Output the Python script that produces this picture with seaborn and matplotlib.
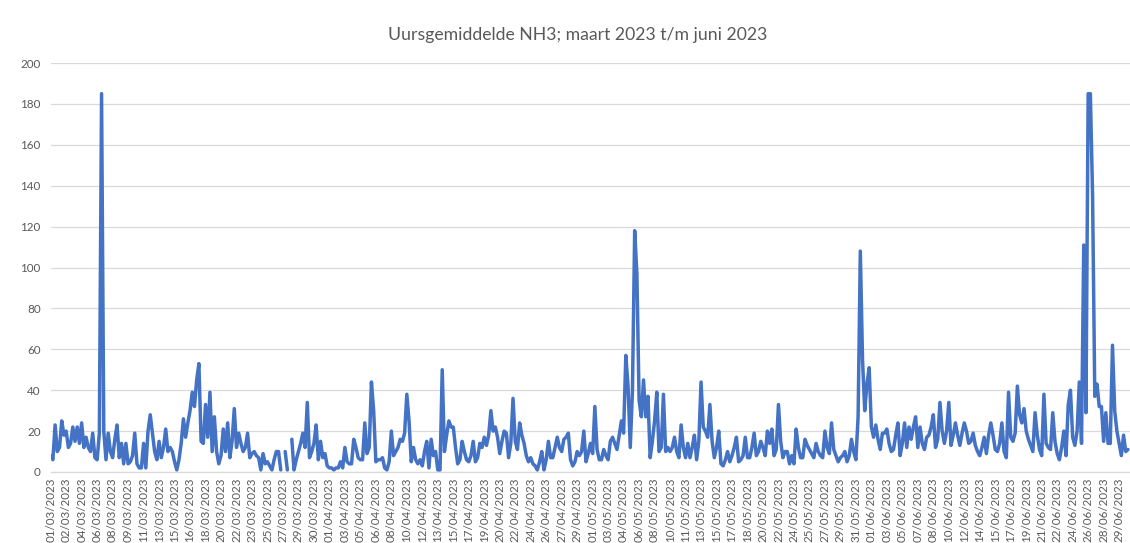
import numpy as np
import pandas as pd
import matplotlib
matplotlib.use("Agg")
import matplotlib.pyplot as plt
import seaborn as sns

# Uursgemiddelde NH3, four readings per day (00, 06, 12, 18 h)
START = "2023-03-01 00:00"
N_DAYS = 122

maart = [
    8, 6, 23, 10,    12, 25, 18, 20,   12, 14, 22, 15,   22, 14, 24, 12,
    17, 12, 10, 19,  7, 6, 19, 185,    20, 6, 19, 10,    7, 16, 23, 7,
    14, 4, 14, 4,    5, 8, 19, 4,      2, 2, 14, 2,      20, 28, 19, 10,
    6, 15, 7, 12,    21, 10, 12, 10,   5, 1, 6, 14,      26, 17, 24, 30,
    39, 32, 45, 53,  15, 14, 33, 17,   39, 10, 27, 10,   4, 8, 21, 10,
    24, 7, 15, 31,   12, 19, 14, 10,   12, 19, 7, 9,     10, 8, 7, 1,
    9, 4, 5, 3,      1, 6, 10, 10,     1, np.nan, 10, 1, np.nan, 16, 1, 6,
    10, 14, 19, 12,  34, 7, 10, 14,    23, 6, 15, 7,
]
april = [
    9, 3, 2, 2,      1, 2, 2, 5,       2, 12, 5, 4,      4, 16, 12, 7,
    6, 6, 24, 9,     12, 44, 30, 5,    6, 6, 7, 2,       1, 5, 20, 8,
    10, 12, 16, 15,  19, 38, 25, 5,    12, 6, 4, 6,      3, 10, 15, 2,
    16, 8, 10, 1,    1, 50, 10, 18,    25, 22, 22, 12,   4, 6, 15, 10,
    6, 5, 8, 15,     5, 7, 14, 12,     17, 13, 18, 30,   20, 22, 17, 9,
    15, 20, 19, 7,   14, 36, 15, 11,   24, 18, 14, 8,    5, 7, 4, 3,
    1, 5, 10, 1,     6, 15, 7, 7,      12, 17, 12, 10,   16, 17, 19, 6,
    3, 5, 10, 8,     10, 20, 5, 9,
]
mei = [
    14, 9, 32, 11,   6, 6, 11, 8,      6, 15, 17, 14,    11, 18, 25, 19,
    57, 42, 12, 40,  118, 97, 35, 27,  45, 27, 37, 7,    15, 25, 39, 10,
    12, 38, 10, 12,  10, 12, 17, 10,   7, 23, 12, 7,     14, 7, 12, 18,
    6, 15, 44, 22,   20, 17, 33, 15,   7, 12, 20, 4,     3, 6, 10, 5,
    8, 12, 17, 5,    6, 8, 17, 7,      7, 12, 19, 8,     10, 15, 12, 8,
    20, 14, 21, 8,   11, 33, 15, 7,    10, 10, 4, 8,     4, 21, 12, 7,
    7, 16, 13, 11,   9, 7, 14, 10,     8, 7, 20, 12,     9, 24, 11, 8,
    5, 7, 8, 10,     5, 8, 16, 10,     6, 27, 108, 55,
]
juni = [
    30, 43, 51, 22,  17, 23, 16, 11,   19, 19, 21, 14,   10, 11, 18, 24,
    8, 14, 24, 12,   22, 16, 22, 27,   12, 22, 14, 11,   17, 18, 22, 28,
    12, 16, 34, 20,  14, 20, 34, 13,   18, 24, 18, 13,   19, 24, 20, 14,
    15, 19, 13, 10,  8, 12, 17, 9,     18, 24, 18, 11,   10, 14, 24, 10,
    7, 39, 17, 15,   19, 42, 28, 24,   31, 20, 16, 13,   10, 29, 18, 11,
    8, 38, 14, 12,   11, 29, 15, 9,    6, 12, 20, 8,     33, 40, 17, 13,
    20, 44, 14, 111, 29, 185, 185, 135, 37, 43, 32, 32,  15, 29, 14, 14,
    62, 30, 20, 14,  8, 18, 10, 11,
]

values = np.array(maart + april + mei + juni, dtype=float)
times = pd.date_range(START, periods=len(values), freq="6h")
hours = (times - times[0]) / pd.Timedelta(hours=1)

df = pd.DataFrame({"uur": hours, "NH3": values})
# missing readings break the line into separate pieces
df["deel"] = df["NH3"].isna().cumsum()
df = df.dropna()

n_hours = N_DAYS * 24
tick_hours = np.arange(0, n_hours, 42)
tick_labels = [(pd.Timestamp(START) + pd.Timedelta(hours=int(h))).strftime("%d/%m/%Y")
               for h in tick_hours]

sns.set_theme(style="white")
plt.rcParams["font.family"] = ["Lato", "DejaVu Sans"]

fig = plt.figure(figsize=(11.3, 5.43), dpi=100)
ax = fig.add_axes([50.5 / 1130, 71 / 543, 1079.5 / 1130, 409 / 543])

sns.lineplot(data=df, x="uur", y="NH3", units="deel", estimator=None,
             color="#4472C4", linewidth=2.5, ax=ax,
             solid_joinstyle="round", solid_capstyle="round")

ax.set_xlim(-0.5, n_hours - 0.5)
ax.set_ylim(0, 200)
ax.set_yticks(range(0, 201, 20))
ax.yaxis.grid(True, color="#D9D9D9", linewidth=0.9)
ax.set_axisbelow(True)
for side in ("top", "right", "left"):
    ax.spines[side].set_visible(False)
ax.spines["bottom"].set_color("#D9D9D9")
ax.spines["bottom"].set_linewidth(0.9)

ax.set_xticks(tick_hours)
ax.set_xticklabels(tick_labels, rotation=90)
ax.tick_params(axis="x", length=0, pad=4, labelsize=8.4, labelcolor="#595959")
ax.tick_params(axis="y", length=0, pad=7, labelsize=8.4, labelcolor="#595959")
ax.set_xlabel("")
ax.set_ylabel("")

fig.text(578 / 1130, 1 - 35 / 543, "Uursgemiddelde NH3; maart 2023 t/m juni 2023",
         ha="center", va="center", fontsize=12.7, color="#595959")

fig.savefig("out.png", dpi=100, facecolor="white")
